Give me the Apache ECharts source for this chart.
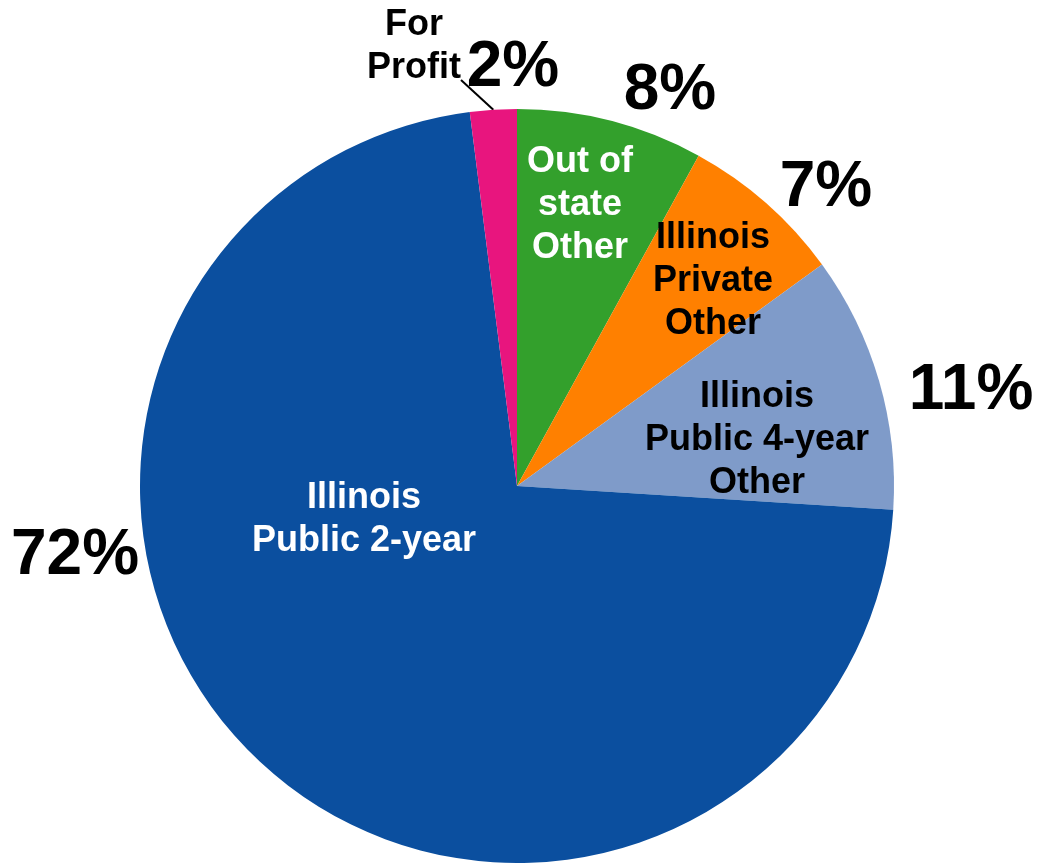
<!DOCTYPE html>
<html>
<head>
<meta charset="utf-8">
<script src="https://cdn.jsdelivr.net/npm/echarts@6/dist/echarts.min.js"></script>
<style>
  html, body { margin: 0; padding: 0; background: #ffffff; }
  #chart { width: 1039px; height: 863px; }
</style>
</head>
<body>
<div id="chart"></div>
<script>
// Share of students by sector, clockwise from 12 o'clock
const categories = [
  'Out of\nstate\nOther',
  'Illinois\nPrivate\nOther',
  'Illinois\nPublic 4-year\nOther',
  'Illinois\nPublic 2-year',
  'For\nProfit'
];
const shares = [8, 7, 11, 72, 2];

const sliceColors = ['#33a02c', '#ff8000', '#7f9bc9', '#0b4f9f', '#e8157e'];
const nameColors = ['#ffffff', '#000000', '#000000', '#ffffff', '#000000'];

// Placement of the sector-name labels and the percentage labels (same order as the data)
const namePos = [[580, 205], [713, 281], [757, 440], [364, 520], [414, 80]];
const pctPos = [[670, 91], [826, 188], [971, 391], [75, 556], [513, 68]];

const FONT = '"Liberation Sans", Arial, Helvetica, sans-serif';

const nameData = categories.map((name, i) => {
  const item = {
    name: name,
    value: shares[i],
    itemStyle: { color: sliceColors[i] },
    label: { color: nameColors[i] }
  };
  if (i === 4) {
    // small slice: name sits outside; an empty spacer line lowers the leader line's end below "Profit"
    item.label.position = 'outside';
    item.label.formatter = '{b}\n{pad| }';
    item.label.rich = { pad: { height: 66, lineHeight: 66, fontSize: 10 } };
    item.labelLine = { show: true, length: 0, length2: 0, smooth: false, lineStyle: { color: '#000', width: 2 } };
  }
  return item;
});

const pctData = categories.map((name, i) => ({ name: name, value: shares[i] }));

const chart = echarts.init(document.getElementById('chart'), null, { renderer: 'canvas' });
chart.setOption({
  backgroundColor: '#ffffff',
  animation: false,
  series: [
    {
      type: 'pie',
      center: [517, 486],
      radius: [0, 377],
      startAngle: 90,
      clockwise: true,
      avoidLabelOverlap: false,
      silent: true,
      itemStyle: { borderWidth: 0 },
      label: {
        show: true,
        position: 'inside',
        formatter: '{b}',
        fontFamily: FONT,
        fontWeight: 'bold',
        fontSize: 36,
        lineHeight: 43,
        align: 'center'
      },
      labelLine: { show: false },
      labelLayout: function (p) {
        const pos = namePos[p.dataIndex];
        return { x: pos[0], y: pos[1], align: 'center', verticalAlign: 'middle' };
      },
      data: nameData
    },
    {
      type: 'pie',
      center: [517, 486],
      radius: [0, 377],
      startAngle: 90,
      clockwise: true,
      avoidLabelOverlap: false,
      silent: true,
      itemStyle: { color: 'rgba(0,0,0,0)', borderWidth: 0 },
      label: {
        show: true,
        position: 'outside',
        formatter: '{c}%',
        color: '#000000',
        fontFamily: FONT,
        fontWeight: 'bold',
        fontSize: 64
      },
      labelLine: { show: false },
      labelLayout: function (p) {
        const pos = pctPos[p.dataIndex];
        return { x: pos[0], y: pos[1], align: 'center', verticalAlign: 'middle' };
      },
      data: pctData
    }
  ]
});
</script>
</body>
</html>
